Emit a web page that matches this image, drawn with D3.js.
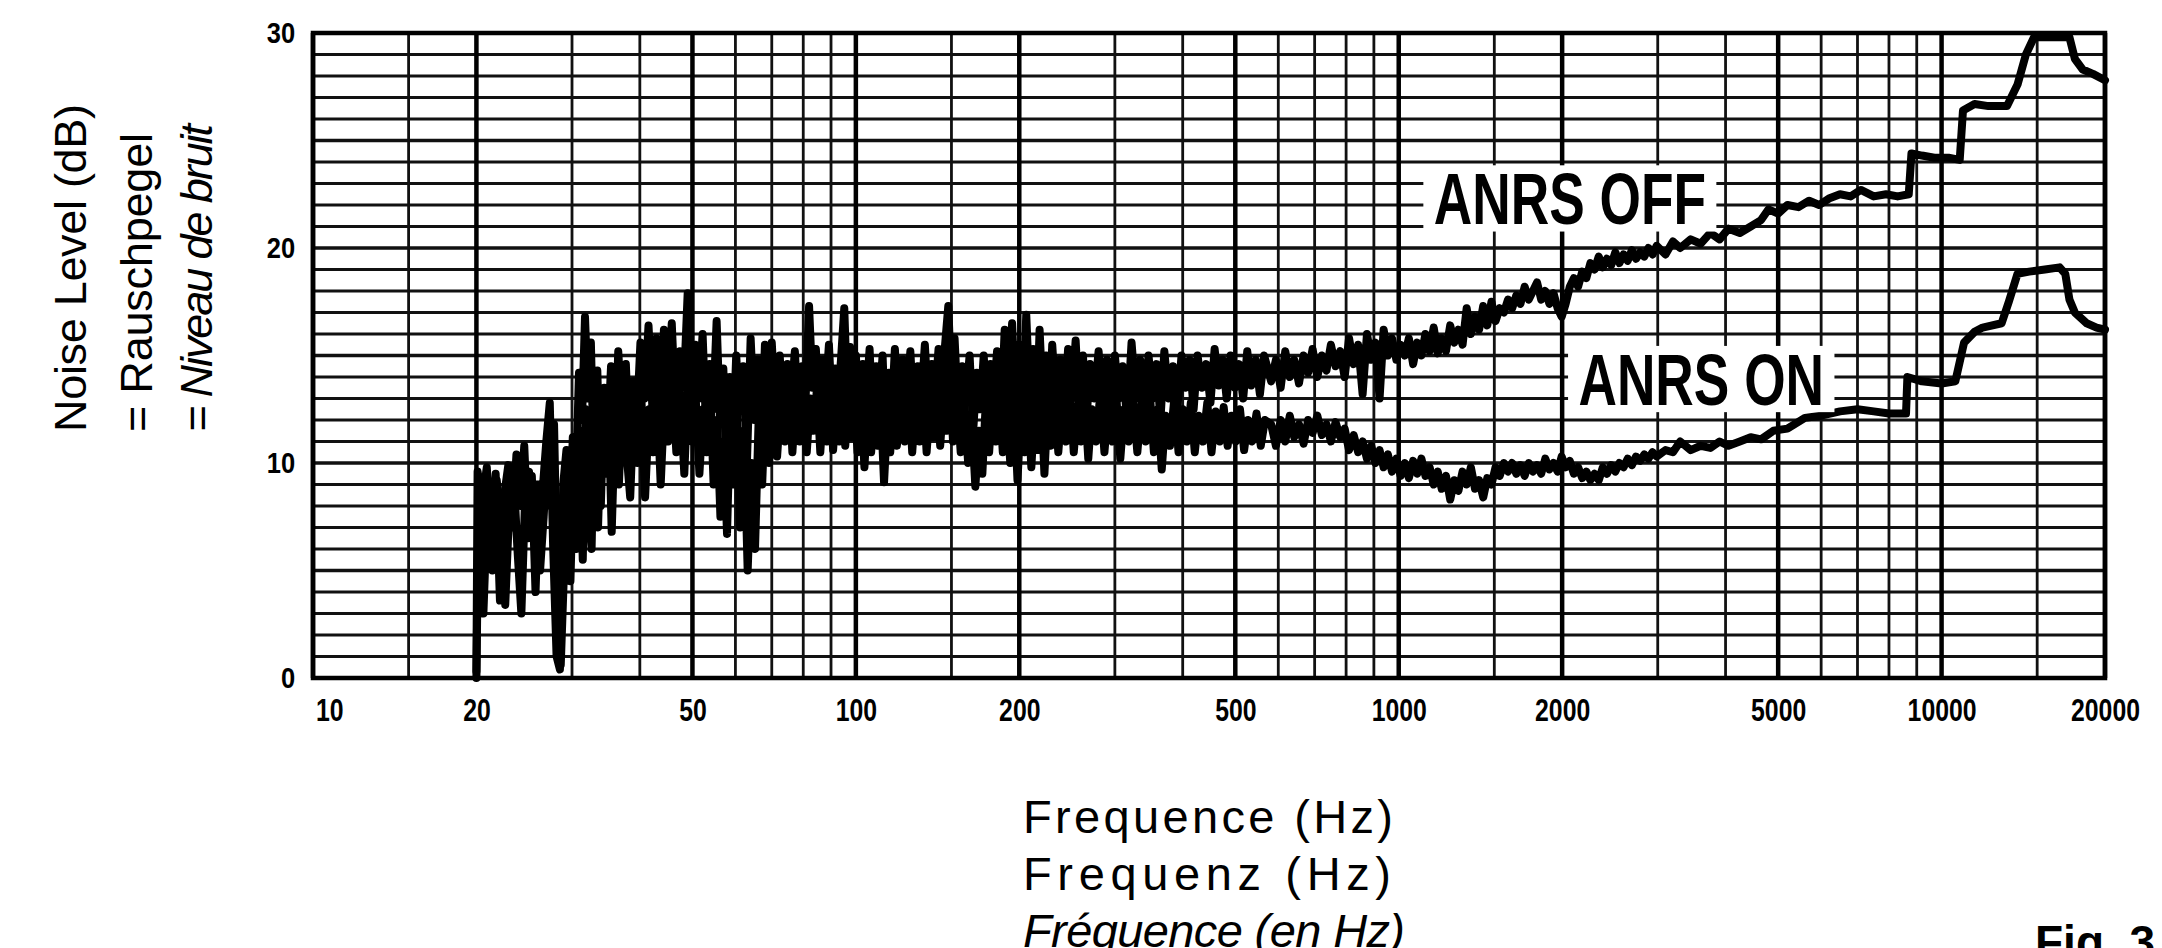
<!DOCTYPE html>
<html>
<head>
<meta charset="utf-8">
<script src="https://cdn.jsdelivr.net/npm/d3@7"></script>
<style>
  html, body { margin: 0; padding: 0; background: #fff; overflow: hidden; }
  svg { display: block; }
</style>
</head>
<body>
<svg id="chart" width="2162" height="948"></svg>
<script>
// tick labels
const FREQ_TICKS = [10, 20, 50, 100, 200, 500, 1000, 2000, 5000, 10000, 20000]
const FREQ_MINOR = [15, 30, 40, 60, 70, 80, 90, 150, 300, 400, 600, 700, 800, 900,
  1500, 3000, 4000, 6000, 7000, 8000, 9000, 15000]
const DB_TICKS = [0, 10, 20, 30]
const DB_GRID = [0, 1, 2, 3, 4, 5, 6, 7, 8, 9, 10, 11, 12, 13, 14, 15, 16, 17, 18, 19, 20,
  21, 22, 23, 24, 25, 26, 27, 28, 29, 30]

// [Hz, dB]
const anrsOff = [
  [20,0.3],[20.1,9.6],[20.5,8.2],[20.9,9.8],[21.3,6],[21.7,9.5],[22.1,3.6],[22.5,8.5],[22.9,9.9],
  [23.3,7],[23.7,10.4],[24.1,8],[24.5,10.8],[24.9,6.5],[25.3,9.4],[25.7,4],[26.1,9],[26.5,8.8],
  [26.9,11],[27.3,12.8],[27.7,6],[28.1,1],[28.5,0.4],[28.9,9],[29.3,10.6],[29.7,7],[30.1,11.2],
  [30.5,9],[30.9,14.2],[31.3,12],[31.7,16.8],[32.1,13],[32.5,15.6],[32.9,10],[33.4,14.3],[33.9,8],
  [34.4,13.5],[34.9,11],[35.4,14.5],[35.9,9.5],[36.5,15.2],[37.1,12],[37.7,14.6],[38.3,10],
  [38.9,13.8],[39.5,12],[40.1,15.6],[40.8,13],[41.5,16.4],[42.2,12.5],[42.9,15.8],[43.6,11],
  [44.3,16.2],[45,13],[45.8,16.5],[46.6,12],[47.4,15.2],[48.2,13.5],[49,17.9],[49.8,12.5],
  [50.6,15.5],[51.4,13],[52.2,16],[53,11.5],[53.8,14.6],[54.6,12.5],[55.4,16.6],[56.2,12],
  [57,14.4],[57.8,9],[58.6,14],[59.4,11],[60.2,15],[61,12.5],[62,14.5],[63,10],[64,15.8],[65,12],
  [66,14.8],[67,10.5],[68,15.5],[69,13],[70,15.6],[71.2,12],[72.4,15],[73.6,11.5],[74.8,14.6],
  [76,13],[77.2,15.2],[78.4,12],[79.6,14.5],[80.8,13],[82,17.3],[83.2,13.5],[84.4,15.3],[85.6,12],
  [86.8,14.8],[88,13.2],[89.2,15.5],[90.4,12.5],[91.6,14.4],[92.8,13],[94,15],[95.2,17.2],[96.4,13],
  [97.6,15.4],[98.8,12.5],[100,15],[101.5,12],[103,14.6],[104.5,13],[106,15.3],[107.5,11.5],
  [109,14.5],[110.5,12.8],[112,15],[113.5,11],[115,14.2],[116.5,12.5],[118,15.3],[120,12],
  [122,14.8],[124,13],[126,15.2],[128,11.8],[130,14.5],[132,13],[134,15.5],[136,12.5],[138,14.6],
  [140,13.2],[142,15.3],[144,12],[146,15.5],[148,17.3],[150,13.5],[152,15.8],[154.5,12],[157,14.5],
  [159.5,13],[162,15],[164.5,11.5],[167,14.2],[169.5,12.5],[172,15],[174.5,12],[177,14.6],
  [179.5,13],[182,15.2],[185,12],[188,16.2],[191,13],[194,16.5],[197,12.5],[200,15.5],[203,12],
  [206,16.9],[209,13],[212,15.3],[215,11.5],[218,16.2],[221,12.8],[224,15],[227,12],[230,15.5],
  [234,12.5],[238,14.8],[242,12],[246,15.3],[250,13],[254,15.7],[258,12.5],[262,15],[266,12],
  [270,14.6],[275,13],[280,15.2],[285,12.5],[290,14.8],[295,12],[300,15],[305,13],[310,14.5],
  [316,12],[322,15.6],[328,13],[334,14.8],[340,12.5],[346,15],[352,13],[358,14.6],[364,12],
  [370,15.2],[377,13],[384,14.5],[391,12.5],[398,15],[405,13.5],[412,14.8],[419,12.5],[426,15],
  [434,13.5],[442,14.6],[450,12.8],[458,15.3],[466,13.6],[474,14.8],[482,13],[490,15],[499,13.5],
  [508,14.6],[517,13],[526,15.2],[535,13.6],[545,14.8],[555,13.2],[565,15],
  [582,13.8],[594,14.8],[606,13.5],[618,15.2],[630,14],[642,14.8],[655,13.7],[668,15],[681,14.2],
  [694,15.3],[708,14],[722,15],[736,14.3],[750,15.5],[765,14.5],[780,15.2],[795,14],[810,15.8],
  [826,14.6],[842,15.5],[858,13.2],[874,16],[890,14.8],[906,15.6],[922,13],[938,16.2],[955,15],
  [972,15.8],[990,14.8],[1008,15.5],[1026,15],[1044,15.8],[1063,14.6],[1082,15.6],[1101,15],
  [1120,16],[1140,15.2],[1160,16.3],[1180,15.1],[1200,15.8],[1222,15.2],[1244,16.4],[1266,15.6],
  [1288,16.2],[1311,15.5],[1334,17.2],[1358,16],[1382,16.8],[1406,16.2],[1431,17.3],[1456,16.4],
  [1482,17.5],[1508,16.6],[1535,17.2],[1562,17],[1590,17.6],[1618,17.2],[1647,17.8],[1676,17.4],
  [1706,18.2],[1736,17.6],[1767,18],[1798,18.4],[1830,17.6],[1862,18],[1895,17.4],[1928,17.9],
  [1962,17.2],[1996,16.8],[2030,17.4],[2066,18.2],[2102,18.6],[2140,18.2],[2178,18.9],[2216,18.6],
  [2255,19.3],[2295,19],[2336,19.6],[2377,19.1],[2419,19.5],[2462,19.2],[2506,19.8],[2550,19.3],
  [2595,19.7],[2641,19.4],[2688,19.9],[2736,19.5],[2784,19.8],[2834,19.6],[2884,20],[2935,19.7],
  [2987,20.1],[3100,19.7],[3200,20.3],[3300,20],[3450,20.4],[3600,20.2],[3750,20.7],[3900,20.4],
  [4050,20.9],[4250,20.7],[4450,21],[4650,21.3],[4800,21.8],[5000,21.6],[5200,22],[5450,21.9],
  [5700,22.2],[5950,22],[6200,22.3],[6500,22.5],[6800,22.4],[7100,22.7],[7500,22.4],[7900,22.5],
  [8300,22.4],[8700,22.5],[8800,24.4],[9200,24.3],[9700,24.2],[10300,24.2],[10800,24.1],
  [10950,26.4],[11500,26.7],[12200,26.6],[13200,26.6],[13800,27.6],[14300,29],[14800,29.8],
  [15500,29.8],[16500,29.8],[17200,29.8],[17600,28.8],[18200,28.3],[19000,28.1],[20000,27.8]
]

const anrsOn = [
  [20,0],[20.2,9.3],[20.6,3],[21,8.8],[21.4,5],[21.8,9.2],[22.2,7],[22.6,3.4],[23,8],[23.4,9.6],
  [23.8,6],[24.2,3],[24.6,8.5],[25,9.6],[25.4,7],[25.8,9],[26.2,5],[26.6,7.5],[27,10.5],[27.4,8],
  [27.8,11.8],[28.2,4],[28.6,0.6],[29,5],[29.4,8.5],[29.8,4.5],[30.2,10],[30.6,6],[31,11.5],
  [31.4,5.5],[31.8,12.5],[32.2,8],[32.6,6],[33,13],[33.5,7],[34,12.5],[34.5,9.5],[35,13],[35.5,6.8],
  [36,12],[36.6,9],[37.2,13.5],[37.8,10.5],[38.4,8.4],[39,12.8],[39.6,10],[40.2,13.5],[40.9,8.4],
  [41.6,12.5],[42.3,10.5],[43,13.5],[43.7,9],[44.4,13],[45.1,11],[45.9,14],[46.7,10.5],[47.5,13.2],
  [48.3,9.5],[49.1,14],[49.9,11],[50.7,13],[51.5,9.5],[52.3,12.5],[53.1,10.5],[53.9,13.5],[54.7,9],
  [55.5,12],[56.3,7.5],[57.1,11],[57.9,6.7],[58.7,12.5],[59.5,9],[60.3,13],[61.2,7],[62.2,11.5],
  [63.2,5],[64.2,10],[65.2,6],[66.2,12],[67.2,9],[68.2,13.2],[69.2,10],[70.4,13.5],[71.6,10.3],
  [72.8,13],[74,11],[75.2,14],[76.4,10.5],[77.6,13.2],[78.8,11],[80,13.8],[81.2,10.5],[82.4,13],
  [83.6,11.5],[84.8,13.5],[86,10.5],[87.2,13],[88.4,11],[89.6,13.8],[90.8,10.6],[92,12.8],[93.2,11],
  [94.4,13.5],[95.6,10.8],[96.8,13],[98,11.2],[99.2,13.5],[100.7,10.5],[102.2,13],[103.7,9.8],
  [105.2,12.8],[106.7,10.5],[108.2,13.2],[109.7,10.8],[111.2,12.5],[112.7,9.1],[114.2,12],
  [115.7,10.5],[117.2,13],[119,10.8],[121,13.2],[123,11],[125,13.8],[127,10.5],[129,13],[131,11],
  [133,13.5],[135,10.5],[137,12.8],[139,11.2],[141,13.5],[143,10.8],[145,13],[147,11.5],[149,14],
  [151,11],[153.5,13.2],[156,10.5],[158.5,12.8],[161,10],[163.5,12],[166,8.9],[168.5,11.5],
  [171,9.5],[173.5,12.8],[176,10.5],[178.5,13],[181,11],[183.5,13.5],[186.5,10.5],[189.5,12.8],
  [192.5,10],[195.5,13],[198.5,9.2],[201.5,12.5],[204.5,10.5],[207.5,13],[210.5,9.8],[213.5,12.6],
  [216.5,10.6],[219.5,13],[222.5,9.5],[225.5,12.5],[228.5,10.8],[232,13.2],[236,10.5],[240,12.8],
  [244,11],[248,13.5],[252,10.5],[256,12.6],[260,11],[264,13],[268,10.2],[272,12.5],[277,11],
  [282,13.2],[287,10.5],[292,12.8],[297,11],[302,13],[307,10.2],[312,12.5],[318,11],[324,13],
  [330,10.5],[336,12.8],[342,11],[348,13.2],[354,10.5],[360,12.5],[366,9.7],[372,12.2],[379,10.8],
  [386,13],[393,10.5],[400,12.5],[407,11],[414,12.8],[421,10.5],[428,12.2],[436,11],[444,12.8],
  [452,10.5],[460,12.4],[468,11],[476,12.6],[484,10.8],[492,12.2],[501,11],[510,12.5],[519,10.6],
  [528,12],[537,11],[547,12.3],[557,10.8],[567,12],
  [582,11.8],[594,10.8],[606,12],[618,11],[630,12.2],[642,11.2],[655,11.8],[668,10.9],[681,12],
  [694,11.4],[708,12.2],[722,11.3],[736,11.8],[750,11],[765,11.9],[780,11.2],[795,11.6],[810,10.6],
  [826,11.3],[842,10.5],[858,11],[874,10.2],[890,10.8],[906,10],[922,10.6],[938,9.8],[955,10.4],
  [972,9.6],[990,10.2],[1008,9.4],[1026,10],[1044,9.3],[1063,10.1],[1082,9.5],[1101,10.2],
  [1120,9.4],[1140,9.8],[1160,9],[1180,9.6],[1200,8.8],[1222,9.4],[1244,8.3],[1266,9.2],[1288,8.7],
  [1311,9.6],[1334,9],[1358,9.8],[1382,8.8],[1406,9.2],[1431,8.4],[1456,9.3],[1482,9],[1508,9.8],
  [1535,9.4],[1562,10],[1590,9.6],[1618,10],[1647,9.5],[1676,9.9],[1706,9.4],[1736,10],[1767,9.6],
  [1798,9.9],[1830,9.5],[1862,10.2],[1895,9.7],[1928,10],[1962,9.6],[1996,10.3],[2030,9.8],
  [2066,10.1],[2102,9.5],[2140,9.8],[2178,9.3],[2216,9.6],[2255,9.2],[2295,9.5],[2336,9.2],
  [2377,9.8],[2419,9.5],[2462,9.9],[2506,9.6],[2550,10],[2595,9.8],[2641,10.2],[2688,9.9],
  [2736,10.3],[2784,10.1],[2834,10.4],[2884,10.2],[2935,10.5],[2987,10.3],[3100,10.6],[3200,10.5],
  [3300,11],[3450,10.6],[3600,10.8],[3750,10.7],[3900,11],[4050,10.8],[4250,11],[4450,11.2],
  [4650,11.1],[4900,11.5],[5200,11.6],[5600,12.1],[6000,12.2],[6500,12.4],[7000,12.5],[7500,12.4],
  [8000,12.3],[8600,12.3],[8650,14],[9200,13.8],[10000,13.7],[10600,13.8],[11000,15.6],
  [11500,16.1],[11900,16.3],[12900,16.5],[13300,17.5],[13800,18.8],[14500,18.9],[15500,19],
  [16500,19.1],[16900,18.8],[17200,17.6],[17600,17],[18500,16.5],[19300,16.3],[20000,16.2]
]

const CURVE_LABELS = [
  { text: 'ANRS OFF', hz: 1160, db: 21.1 },
  { text: 'ANRS ON', hz: 2143, db: 12.7 }
]

const svg = d3.select('#chart')
const W = 2162, H = 948
const plotLeft = 313, plotRight = 2105, plotTop = 33, plotBottom = 678

let x = d3.scaleLog().domain([10, 20000]).range([plotLeft, plotRight])
let y = d3.scaleLinear().domain([0, 30]).range([plotBottom, plotTop])

svg.append('rect').attr('width', W).attr('height', H).attr('fill', '#fff')

let grid = svg.append('g')

// horizontal 1 dB lines
grid.selectAll('line.h')
  .data(DB_GRID)
  .enter()
  .append('line')
  .attr('class', 'h')
  .attr('x1', plotLeft).attr('x2', plotRight)
  .attr('y1', d => y(d)).attr('y2', d => y(d))
  .attr('stroke', '#111')
  .attr('stroke-width', d => d % 5 === 0 ? 3.4 : 2.8)

// vertical lines, thinner for unlabelled ones
grid.selectAll('line.vm')
  .data(FREQ_MINOR)
  .enter()
  .append('line')
  .attr('class', 'vm')
  .attr('x1', d => x(d)).attr('x2', d => x(d))
  .attr('y1', plotTop).attr('y2', plotBottom)
  .attr('stroke', '#111')
  .attr('stroke-width', 2.8)

grid.selectAll('line.vM')
  .data(FREQ_TICKS)
  .enter()
  .append('line')
  .attr('class', 'vM')
  .attr('x1', d => x(d)).attr('x2', d => x(d))
  .attr('y1', plotTop).attr('y2', plotBottom)
  .attr('stroke', '#000')
  .attr('stroke-width', 4.5)

// frame
svg.append('rect')
  .attr('x', plotLeft).attr('y', plotTop)
  .attr('width', plotRight - plotLeft).attr('height', plotBottom - plotTop)
  .attr('fill', 'none').attr('stroke', '#000').attr('stroke-width', 4.5)

// curves
let line = d3.line().x(d => x(d[0])).y(d => y(d[1]))
let curves = svg.append('g')
curves.selectAll('path')
  .data([anrsOff, anrsOn])
  .enter()
  .append('path')
  .attr('d', line)
  .attr('fill', 'none')
  .attr('stroke', '#000')
  .attr('stroke-width', 8)
  .attr('stroke-linejoin', 'round')
  .attr('stroke-linecap', 'round')

// curve labels on white patches (condensed look via horizontal scale)
let labelSize = 72
let labels = svg.selectAll('g.lab')
  .data(CURVE_LABELS)
  .enter()
  .append('g')
  .attr('class', 'lab')
  .attr('transform', d => `translate(${x(d.hz)}, ${y(d.db)})`)
  .append('g')
  .attr('transform', 'scale(0.74, 1)')

labels.append('text')
  .attr('font-family', 'Liberation Sans, Arial, sans-serif')
  .attr('font-weight', 'bold')
  .attr('font-size', labelSize)
  .attr('fill', '#000')
  .text(d => d.text)
  .each(function () {
    let b = this.getBBox()
    d3.select(this.parentNode).insert('rect', 'text')
      .attr('x', b.x - 14).attr('y', -labelSize * 0.82)
      .attr('width', b.width + 28).attr('height', labelSize * 0.92)
      .attr('fill', '#fff')
  })

// axes
let tickFont = 'Liberation Sans, Arial, sans-serif'

let xAxis = svg.append('g')
  .attr('transform', `translate(0, ${plotBottom})`)
  .call(d3.axisBottom(x).tickValues(FREQ_TICKS).tickSize(0).tickPadding(21).tickFormat(d => d))
xAxis.select('.domain').remove()
xAxis.selectAll('text')
  .attr('font-family', tickFont).attr('font-weight', 'bold').attr('font-size', 31)
  .attr('transform', 'scale(0.8, 1)').attr('fill', '#000')
  .filter(d => d === 10).attr('text-anchor', 'start').attr('x', 3)

let yAxis = svg.append('g')
  .attr('transform', `translate(${plotLeft}, 0)`)
  .call(d3.axisLeft(y).tickValues(DB_TICKS).tickSize(0).tickPadding(21))
yAxis.select('.domain').remove()
yAxis.selectAll('text')
  .attr('font-family', tickFont).attr('font-weight', 'bold').attr('font-size', 30)
  .attr('transform', 'scale(0.85, 1)').attr('fill', '#000')

// axis titles
let titleFont = 'Liberation Sans, Arial, sans-serif'
let yTitles = [
  { t: 'Noise Level (dB)', bx: 86, len: 328, italic: false },
  { t: '= Rauschpegel', bx: 152, len: 299, italic: false },
  { t: '= Niveau de bruit', bx: 212, len: 308, italic: true }
]
svg.selectAll('text.yt')
  .data(yTitles)
  .enter()
  .append('text')
  .attr('class', 'yt')
  .attr('transform', d => `translate(${d.bx}, 432) rotate(-90)`)
  .attr('font-family', titleFont).attr('font-size', 45)
  .attr('font-style', d => d.italic ? 'italic' : 'normal')
  .attr('textLength', d => d.len).attr('lengthAdjust', 'spacing')
  .attr('fill', '#000')
  .text(d => d.t)

let xTitles = [
  { t: 'Frequence (Hz)', by: 833, len: 370, italic: false },
  { t: 'Frequenz (Hz)', by: 890, len: 368, italic: false },
  { t: 'Fréquence (en Hz)', by: 947, len: 382, italic: true }
]
svg.selectAll('text.xt')
  .data(xTitles)
  .enter()
  .append('text')
  .attr('class', 'xt')
  .attr('x', 1023).attr('y', d => d.by)
  .attr('font-family', titleFont).attr('font-size', 47)
  .attr('font-style', d => d.italic ? 'italic' : 'normal')
  .attr('textLength', d => d.len).attr('lengthAdjust', 'spacing')
  .attr('fill', '#000')
  .text(d => d.t)

svg.append('text')
  .attr('x', 2035).attr('y', 958)
  .attr('font-family', titleFont).attr('font-weight', 'bold').attr('font-size', 46)
  .attr('fill', '#000')
  .text('Fig. 3')
</script>
</body>
</html>
